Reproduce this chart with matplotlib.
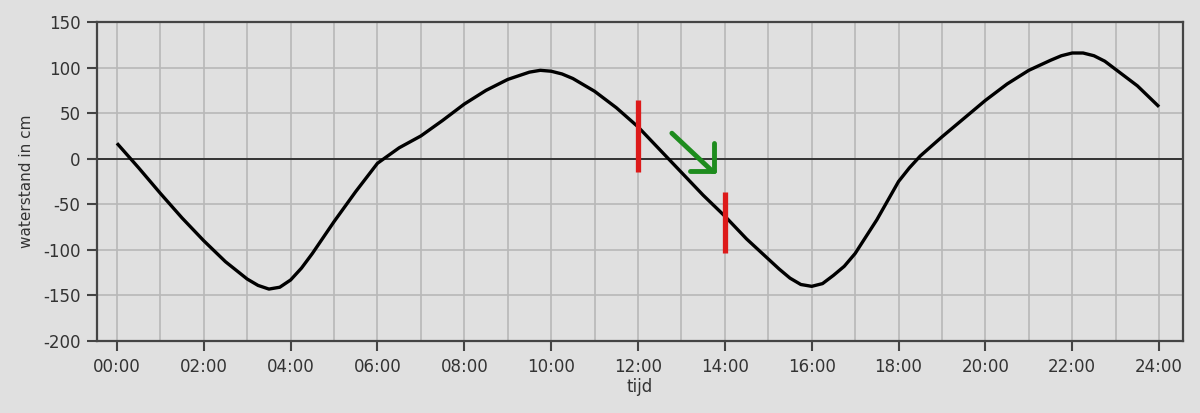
import numpy as np
import matplotlib.pyplot as plt
from matplotlib.ticker import MultipleLocator

plt.rcParams['axes.unicode_minus'] = False

# water level readings (half hours, quarter hours near the turns)
hours = [0, 0.5, 1, 1.5, 2, 2.5, 3, 3.25, 3.5, 3.75, 4, 4.25, 4.5,
         5, 5.5, 6, 6.5, 7, 7.5, 8, 8.5, 9, 9.25, 9.5, 9.75, 10, 10.25, 10.5,
         11, 11.5, 12, 12.5, 13, 13.5, 14, 14.5, 15, 15.25, 15.5, 15.75, 16,
         16.25, 16.5, 16.75, 17, 17.5, 18, 18.25, 18.5, 19, 19.5, 20, 20.5,
         21, 21.5, 21.75, 22, 22.25, 22.5, 22.75, 23, 23.5, 24]
level = [17, -10, -38, -65, -90, -113, -132, -139, -143, -141, -133, -120, -104,
         -69, -36, -5, 12, 25, 42, 60, 75, 87, 91, 95, 97, 96, 93, 88,
         74, 56, 35, 10, -15, -40, -63, -88, -110, -121, -131, -138, -140,
         -137, -128, -118, -104, -67, -25, -10, 3, 24, 44, 64, 82,
         97, 108, 113, 116, 116, 113, 107, 98, 80, 57]

# red markers at 12:00 and 14:00
mark_x = [12, 14]
mark_lo = [-15, -103]
mark_hi = [64, -37]

# green hand-drawn arrow
arrow_x = [12.78, 13.72]
arrow_y = [28, -14]
head_v_x = [13.74, 13.74]
head_v_y = [17, -14]
head_h_x = [13.2, 13.76]
head_h_y = [-14, -14]

xticks = np.arange(0, 25, 2)
xlabels = ["%02d:00" % h for h in xticks]

bg = "#e0e0e0"
fig = plt.figure(figsize=(12, 4.13), dpi=100, facecolor=bg)
ax = fig.add_axes([0.0808, 0.1743, 0.905, 0.7724])
ax.set_facecolor(bg)

ax.set_xlim(-0.46, 24.55)
ax.set_ylim(-200, 150)
ax.set_xticks(xticks)
ax.set_xticklabels(xlabels)
ax.xaxis.set_minor_locator(MultipleLocator(1))
ax.set_yticks(np.arange(-200, 151, 50))
ax.grid(True, which="both", color="#b8b8b8", linewidth=1.2)
ax.tick_params(which="minor", length=0)
ax.tick_params(which="major", length=7, width=1.5, color="#444444",
               labelsize=12, labelcolor="#333333", pad=5)
for s in ax.spines.values():
    s.set_color("#444444")
    s.set_linewidth(1.6)
ax.set_axisbelow(True)

ax.axhline(0, color="#333333", linewidth=1.4, zorder=2)
ax.plot(hours, level, color="black", linewidth=2.4, zorder=3,
        solid_capstyle="butt", solid_joinstyle="round")

ax.vlines(mark_x, mark_lo, mark_hi, color="#dd1a1a", linewidth=3.8, zorder=4)
ax.plot(arrow_x, arrow_y, color="#1e8c1e", linewidth=3.5, zorder=4, solid_capstyle="round")
ax.plot(head_v_x, head_v_y, color="#1e8c1e", linewidth=3.5, zorder=4, solid_capstyle="round")
ax.plot(head_h_x, head_h_y, color="#1e8c1e", linewidth=3.5, zorder=4, solid_capstyle="round")

ax.set_xlabel("tijd", fontsize=12, color="#333333", labelpad=2)
ax.set_ylabel("waterstand in cm", fontsize=11, color="#333333", labelpad=6)

plt.savefig("out.png", dpi=100, facecolor=bg)
